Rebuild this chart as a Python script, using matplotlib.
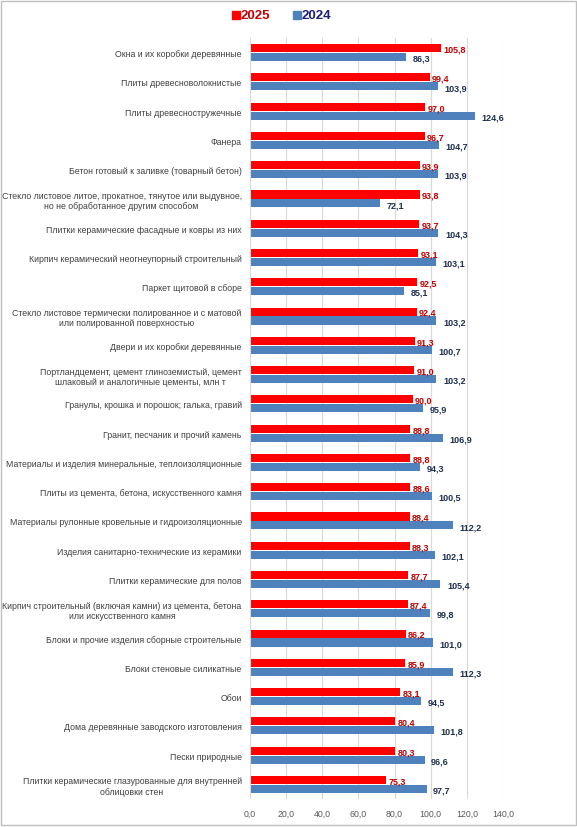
import numpy as np
import matplotlib.pyplot as plt
from matplotlib.patches import Rectangle

plt.rcParams['font.family'] = ['Liberation Sans', 'DejaVu Sans']

categories = [
    "Окна и их коробки деревянные",
    "Плиты древесноволокнистые",
    "Плиты древесностружечные",
    "Фанера",
    "Бетон готовый к заливке (товарный бетон)",
    "Стекло листовое литое, прокатное, тянутое или выдувное,\nно не обработанное другим способом",
    "Плитки керамические фасадные и ковры из них",
    "Кирпич керамический неогнеупорный строительный",
    "Паркет щитовой в сборе",
    "Стекло листовое термически полированное и с матовой\nили полированной поверхностью",
    "Двери и их коробки деревянные",
    "Портландцемент, цемент глиноземистый, цемент\nшлаковый и аналогичные цементы, млн т",
    "Гранулы, крошка и порошок; галька, гравий",
    "Гранит, песчаник и прочий камень",
    "Материалы и изделия минеральные, теплоизоляционные",
    "Плиты из цемента, бетона, искусственного камня",
    "Материалы рулонные кровельные и гидроизоляционные",
    "Изделия санитарно-технические из керамики",
    "Плитки керамические для полов",
    "Кирпич строительный (включая камни) из цемента, бетона\nили искусственного камня",
    "Блоки и прочие изделия сборные строительные",
    "Блоки стеновые силикатные",
    "Обои",
    "Дома деревянные заводского изготовления",
    "Пески природные",
    "Плитки керамические глазурованные для внутренней\nоблицовки стен",
]
v2025 = [105.8, 99.4, 97.0, 96.7, 93.9, 93.8, 93.7, 93.1, 92.5, 92.4, 91.3, 91.0, 90.0,
         88.8, 88.8, 88.6, 88.4, 88.3, 87.7, 87.4, 86.2, 85.9, 83.1, 80.4, 80.3, 75.3]
v2024 = [86.3, 103.9, 124.6, 104.7, 103.9, 72.1, 104.3, 103.1, 85.1, 103.2, 100.7, 103.2, 95.9,
         106.9, 94.3, 100.5, 112.2, 102.1, 105.4, 99.8, 101.0, 112.3, 94.5, 101.8, 96.6, 97.7]
xticks = np.arange(0, 141, 20)

red = '#FF0000'
blue = '#4F81BD'
red_txt = '#C00000'
blue_txt = '#1F2F4F'

fig = plt.figure(figsize=(5.77, 8.28), dpi=100)
ax = fig.add_axes([250/577, 28/828, 253/577, 761/828])

y = np.arange(len(categories))
h = 0.275
g = 0.015
ax.barh(y - h/2 - g, v2025, height=h, color=red, zorder=3)
ax.barh(y + h/2 + g, v2024, height=h, color=blue, zorder=3)

for i in range(len(categories)):
    ax.text(v2025[i] + 1.2, y[i] - h/2 - g + 0.03, f"{v2025[i]:.1f}".replace('.', ','),
            color=red_txt, fontsize=6.5, fontweight='bold', va='center', ha='left', zorder=4)
    ax.text(v2024[i] + 3.6, y[i] + h/2 + g + 0.04, f"{v2024[i]:.1f}".replace('.', ','),
            color=blue_txt, fontsize=6.5, fontweight='bold', va='center', ha='left', zorder=4)

ax.set_ylim(len(categories) - 0.5, -0.5)
ax.set_xlim(0, 140)
ax.set_yticks(y)
ax.set_yticklabels(categories, fontsize=6.3, color='#404040', multialignment='center')
ax.set_xticks(xticks)
ax.set_xticklabels([f"{t:.1f}".replace('.', ',') for t in xticks], fontsize=6.3, color='#595959')
ax.tick_params(axis='x', length=0, pad=7)
ax.tick_params(axis='y', length=0, pad=6)
ax.grid(axis='x', color='#D9D9D9', lw=0.8, zorder=0)
for s in ax.spines.values():
    s.set_visible(False)
ax.axvline(0, color='#D9D9D9', lw=0.8, zorder=5)

# legend
fig.patches.append(Rectangle((232/577, 1 - 20/828), 8/577, 8/828, transform=fig.transFigure,
                             color=red, figure=fig))
fig.text(241/577, 1 - 16/828, "2025", color=red_txt, fontsize=9.5, fontweight='bold', va='center')
fig.patches.append(Rectangle((293/577, 1 - 20/828), 8/577, 8/828, transform=fig.transFigure,
                             color=blue, figure=fig))
fig.text(302/577, 1 - 16/828, "2024", color='#1F1F7A', fontsize=9.5, fontweight='bold', va='center')

# outer frame
fig.patches.append(Rectangle((0.002, 0.002), 0.996, 0.996, transform=fig.transFigure,
                             fill=False, edgecolor='#BFBFBF', lw=1, figure=fig))

fig.savefig('out.png', dpi=100)
